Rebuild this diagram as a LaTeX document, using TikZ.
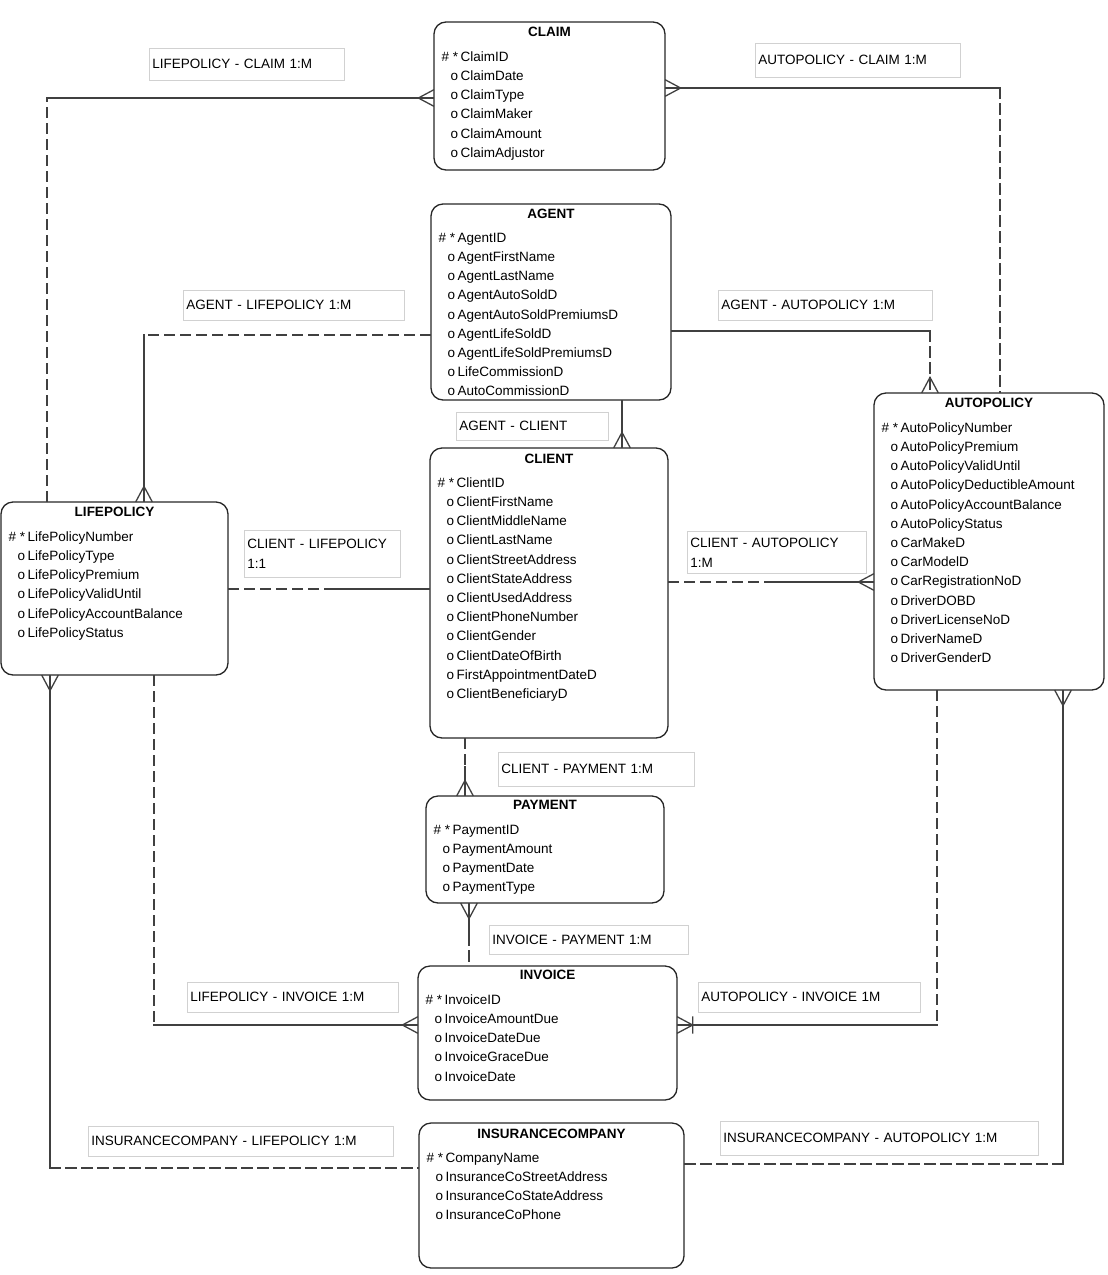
\documentclass[tikz,border=0pt]{standalone}
\usepackage{fontspec}
\setmainfont{Liberation Sans}
\usetikzlibrary{calc}

\newcommand{\erfont}{\fontsize{13.5}{19.2}\selectfont}
\newcommand{\attrs}[1]{\begin{tabular}[t]{@{}r@{\hspace{2.5pt}}l@{}}#1\end{tabular}}

\begin{document}
\begin{tikzpicture}[x=1pt, y=-1pt,
    ent/.style={draw=black!85, line width=1.3pt, rounded corners=12pt, inner sep=0pt},
    ttl/.style={font=\erfont\bfseries, inner sep=0pt, anchor=base},
    att/.style={font=\erfont, inner sep=0pt, anchor=base west},
    rel/.style={draw=black!18, line width=0.6pt, anchor=north west, align=left, inner xsep=3pt, inner ysep=0pt, font=\fontsize{13.5}{20}\selectfont},
    mand/.style={draw=black!75, line width=1.3pt, line cap=rect},
    opt/.style={mand, dash pattern=on 10pt off 6pt},
    crow/.pic={\draw[mand] (-15,0) -- (0,-8) (-15,0) -- (0,8);},
    crowbar/.pic={\draw[mand] (-15,0) -- (0,-8) (-15,0) -- (0,8) (-15,-8) -- (-15,8);}
]
\useasboundingbox (0,0) rectangle (1108,1275);

% entities
\node[ent, minimum width=231pt, minimum height=148pt] (claim) at (549.5,96) {};
\node[ttl] (claimT) at ([yshift=-15pt]claim.north) {CLAIM};
\node[att] (claimA) at ([xshift=8pt,yshift=-40pt]claim.north west) {\attrs{%
  \# * & ClaimID\\ o & ClaimDate\\ o & ClaimType\\ o & ClaimMaker\\ o & ClaimAmount\\ o & ClaimAdjustor}};

\node[ent, minimum width=240pt, minimum height=196pt] (agent) at (551,302) {};
\node[ttl] (agentT) at ([yshift=-15pt]agent.north) {AGENT};
\node[att] (agentA) at ([xshift=8pt,yshift=-39pt]agent.north west) {\attrs{%
  \# * & AgentID\\ o & AgentFirstName\\ o & AgentLastName\\ o & AgentAutoSoldD\\ o & AgentAutoSoldPremiumsD\\
  o & AgentLifeSoldD\\ o & AgentLifeSoldPremiumsD\\ o & LifeCommissionD\\ o & AutoCommissionD}};

\node[ent, minimum width=238pt, minimum height=290pt] (client) at (549,593) {};
\node[ttl] (clientT) at ([yshift=-16pt]client.north) {CLIENT};
\node[att] (clientA) at ([xshift=8pt,yshift=-40pt]client.north west) {\attrs{%
  \# * & ClientID\\ o & ClientFirstName\\ o & ClientMiddleName\\ o & ClientLastName\\ o & ClientStreetAddress\\
  o & ClientStateAddress\\ o & ClientUsedAddress\\ o & ClientPhoneNumber\\ o & ClientGender\\
  o & ClientDateOfBirth\\ o & FirstAppointmentDateD\\ o & ClientBeneficiaryD}};

\node[ent, minimum width=227pt, minimum height=173pt] (lifepolicy) at (114.5,588.5) {};
\node[ttl] (lifepolicyT) at ([yshift=-15pt]lifepolicy.north) {LIFEPOLICY};
\node[att] (lifepolicyA) at ([xshift=8pt,yshift=-40pt]lifepolicy.north west) {\attrs{%
  \# * & LifePolicyNumber\\ o & LifePolicyType\\ o & LifePolicyPremium\\ o & LifePolicyValidUntil\\
  o & LifePolicyAccountBalance\\ o & LifePolicyStatus}};

\node[ent, minimum width=230pt, minimum height=297pt] (autopolicy) at (989,541.5) {};
\node[ttl] (autopolicyT) at ([yshift=-15pt]autopolicy.north) {AUTOPOLICY};
\node[att] (autopolicyA) at ([xshift=8pt,yshift=-40pt]autopolicy.north west) {\attrs{%
  \# * & AutoPolicyNumber\\ o & AutoPolicyPremium\\ o & AutoPolicyValidUntil\\ o & AutoPolicyDeductibleAmount\\
  o & AutoPolicyAccountBalance\\ o & AutoPolicyStatus\\ o & CarMakeD\\ o & CarModelD\\ o & CarRegistrationNoD\\
  o & DriverDOBD\\ o & DriverLicenseNoD\\ o & DriverNameD\\ o & DriverGenderD}};

\node[ent, minimum width=238pt, minimum height=107pt] (payment) at (545,849.5) {};
\node[ttl] (paymentT) at ([yshift=-14pt]payment.north) {PAYMENT};
\node[att] (paymentA) at ([xshift=8pt,yshift=-39pt]payment.north west) {\attrs{%
  \# * & PaymentID\\ o & PaymentAmount\\ o & PaymentDate\\ o & PaymentType}};

\node[ent, minimum width=259pt, minimum height=134pt] (invoice) at (547.5,1033) {};
\node[ttl] (invoiceT) at ([yshift=-14pt]invoice.north) {INVOICE};
\node[att] (invoiceA) at ([xshift=8pt,yshift=-39pt]invoice.north west) {\attrs{%
  \# * & InvoiceID\\ o & InvoiceAmountDue\\ o & InvoiceDateDue\\ o & InvoiceGraceDue\\ o & InvoiceDate}};

\node[ent, minimum width=265pt, minimum height=145pt] (insurancecompany) at (551.5,1195.5) {};
\node[ttl] (insurancecompanyT) at ([yshift=-16pt]insurancecompany.north) {INSURANCECOMPANY};
\node[att] (insurancecompanyA) at ([xshift=8pt,yshift=-40pt]insurancecompany.north west) {\attrs{%
  \# * & CompanyName\\ o & InsuranceCoStreetAddress\\ o & InsuranceCoStateAddress\\ o & InsuranceCoPhone}};

% relationship labels
\node[rel, text width=189pt, minimum height=32pt] (lcLbl) at (149,48) {LIFEPOLICY - CLAIM 1:M};
\node[rel, text width=199pt, minimum height=34pt] (acLbl) at (755,43) {AUTOPOLICY - CLAIM 1:M};
\node[rel, text width=215pt, minimum height=30pt] (alLbl) at (183,290) {AGENT - LIFEPOLICY 1:M};
\node[rel, text width=208pt, minimum height=30pt] (aaLbl) at (718,290) {AGENT - AUTOPOLICY 1:M};
\node[rel, text width=146pt, minimum height=28pt] (agcLbl) at (456,412) {AGENT - CLIENT};
\node[rel, text width=150pt, minimum height=47pt] (clLbl) at (244,530) {CLIENT - LIFEPOLICY\\1:1};
\node[rel, text width=173pt, minimum height=42pt] (caLbl) at (687,531) {CLIENT - AUTOPOLICY\\1:M};
\node[rel, text width=190pt, minimum height=34pt] (cpLbl) at (498,752) {CLIENT - PAYMENT 1:M};
\node[rel, text width=193pt, minimum height=29pt] (ipLbl) at (489,925) {INVOICE - PAYMENT 1:M};
\node[rel, text width=205pt, minimum height=30pt] (liLbl) at (187,982) {LIFEPOLICY - INVOICE 1:M};
\node[rel, text width=216pt, minimum height=30pt] (aiLbl) at (698,982) {AUTOPOLICY - INVOICE 1M};
\node[rel, text width=299pt, minimum height=30pt] (iclLbl) at (88,1126) {INSURANCECOMPANY - LIFEPOLICY 1:M};
\node[rel, text width=312pt, minimum height=34pt] (icaLbl) at (720,1121) {INSURANCECOMPANY - AUTOPOLICY 1:M};

% relationships
\draw[opt] (lifepolicy.north -| 47,0) -- (47,98);
\draw[mand] (47,98) -- (claim.west |- 0,98);
\pic at (claim.west |- 0,98) {crow};

\draw[mand] (claim.east |- 0,88) -- (1000,88);
\draw[opt] (1000,88) -- (autopolicy.north -| 1000,0);
\pic[rotate=180] at (claim.east |- 0,88) {crow};

\draw[opt] (agent.west |- 0,335) -- (144,335);
\draw[mand] (144,335) -- (lifepolicy.north -| 144,0);
\pic[rotate=-90] at (lifepolicy.north -| 144,0) {crow};

\draw[mand] (agent.east |- 0,331) -- (930,331);
\draw[opt] (930,331) -- (autopolicy.north -| 930,0);
\pic[rotate=-90] at (autopolicy.north -| 930,0) {crow};

\draw[mand] (agent.south -| 622,0) -- (client.north -| 622,0);
\pic[rotate=-90] at (client.north -| 622,0) {crow};

\draw[opt] (lifepolicy.east |- 0,589) -- (329,589);
\draw[mand] (329,589) -- (client.west |- 0,589);

\draw[opt] (client.east |- 0,582) -- (771,582);
\draw[mand] (771,582) -- (autopolicy.west |- 0,582);
\pic at (autopolicy.west |- 0,582) {crow};

\draw[opt] (client.south -| 465,0) -- (465,767);
\draw[mand] (465,767) -- (payment.north -| 465,0);
\pic[rotate=-90] at (payment.north -| 465,0) {crow};

\draw[mand] (payment.south -| 469,0) -- (469,935);
\draw[opt] (469,935) -- (invoice.north -| 469,0);
\pic[rotate=90] at (payment.south -| 469,0) {crow};

\draw[opt] (lifepolicy.south -| 154,0) -- (154,1025);
\draw[mand] (154,1025) -- (invoice.west |- 0,1025);
\pic at (invoice.west |- 0,1025) {crow};

\draw[opt] (autopolicy.south -| 937,0) -- (937,1025);
\draw[mand] (937,1025) -- (invoice.east |- 0,1025);
\pic[rotate=180] at (invoice.east |- 0,1025) {crowbar};

\draw[mand] (lifepolicy.south -| 50,0) -- (50,1168);
\draw[opt] (50,1168) -- (insurancecompany.west |- 0,1168);
\pic[rotate=90] at (lifepolicy.south -| 50,0) {crow};

\draw[mand] (autopolicy.south -| 1063,0) -- (1063,1164);
\draw[opt] (1063,1164) -- (insurancecompany.east |- 0,1164);
\pic[rotate=90] at (autopolicy.south -| 1063,0) {crow};
\end{tikzpicture}
\end{document}
